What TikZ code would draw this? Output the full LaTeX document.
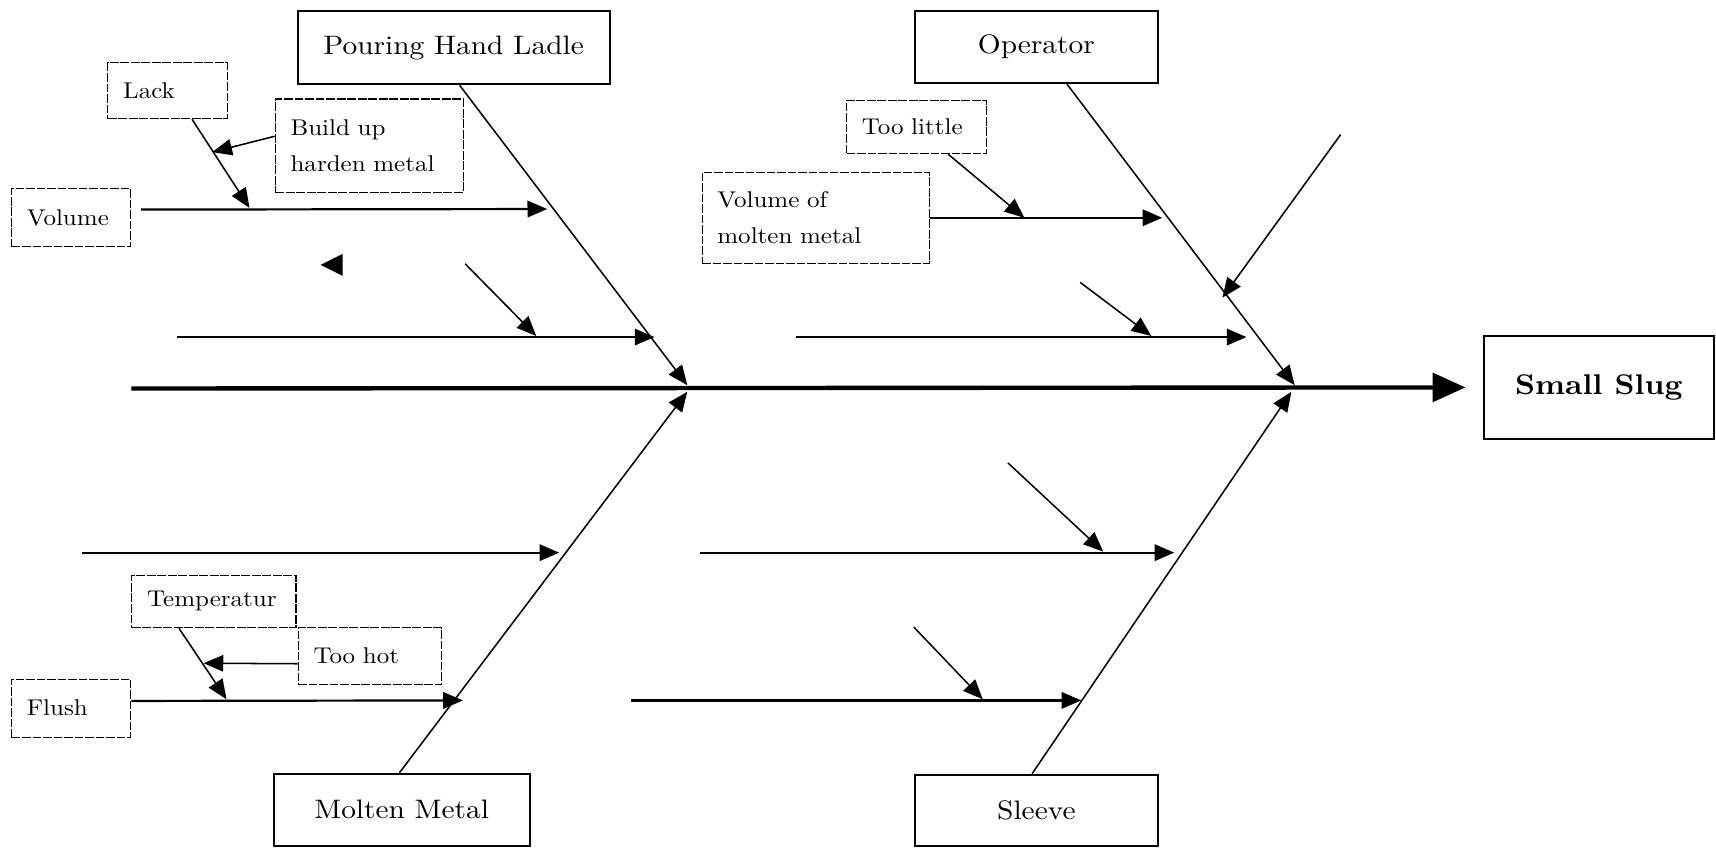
\documentclass[tikz,border=0pt]{standalone}
\usepackage{fontspec}
\setmainfont{lmroman10-regular.otf}[FakeStretch=1.1, BoldFont=lmroman10-bold.otf]
\usetikzlibrary{arrows.meta}
\begin{document}
\begin{tikzpicture}[x=0.5pt,y=-0.5pt,
  catbox/.style={draw,line width=0.9pt,inner sep=0pt,font=\fontsize{12.2}{14}\selectfont},
  subbox/.style={draw,line width=0.5pt,dash pattern=on 4pt off 0.8pt,anchor=north west,
                 align=left,inner xsep=7pt,inner ysep=0pt,font=\fontsize{10.4}{16.5}\selectfont},
  bone/.style={line width=0.7pt,-{Triangle[length=9pt,width=7.5pt]}},
  rib/.style={line width=1pt,-{Triangle[length=9pt,width=7.5pt]}},
  twig/.style={line width=0.7pt,-{Triangle[length=9pt,width=7.5pt]}},
  spine/.style={line width=2pt,-{Triangle[length=15pt,width=13pt]}}]

\useasboundingbox (0,0) rectangle (1568,775);

% effect
\node[catbox,font=\fontsize{13}{15}\selectfont\bfseries,minimum width=105pt,minimum height=47pt] (slug) at (1461,354) {Small Slug};

% main categories
\node[catbox,minimum width=142.5pt,minimum height=33.5pt] (pour) at (414.5,43.5) {Pouring Hand Ladle};
\node[catbox,minimum width=111pt,minimum height=33pt] (oper) at (947,43) {Operator};
\node[catbox,minimum width=117pt,minimum height=33pt] (molt) at (367,740) {Molten Metal};
\node[catbox,minimum width=111pt,minimum height=32.5pt] (slv) at (947,740.5) {Sleeve};

% spine
\coordinate (tail) at (120,355);
\draw[spine] (tail) -- ([xshift=-8pt]slug.west);

% main bones
\coordinate (jl) at (628,355);
\coordinate (jr) at (1183,355);
\draw[bone] ([xshift=2.75pt]pour.south) -- ([yshift=1.5pt]jl);
\draw[bone] ([xshift=14pt]oper.south) -- ([yshift=1.5pt]jr);
\draw[bone] ([xshift=-1pt]molt.north) -- ([yshift=-1.5pt]jl);
\draw[bone] ([xshift=-2pt]slv.north) -- ([xshift=-1.5pt,yshift=-1.5pt]jr);

% cause boxes
\node[subbox,text width=40.5pt,minimum height=25.5pt] (lack) at (98,57) {Lack};
\node[subbox,text width=72pt,minimum height=42.5pt] (build) at (251,90) {Build up\\harden metal};
\node[subbox,text width=40.5pt,minimum height=26.5pt] (vol) at (10,172) {Volume};
\node[subbox,text width=61pt,minimum height=24pt] (temp) at (120,525) {Temperatur};
\node[subbox,text width=51.5pt,minimum height=26pt] (hot) at (272,573) {Too hot};
\node[subbox,text width=40.5pt,minimum height=26.5pt] (flush) at (10,620) {Flush};
\node[subbox,text width=50pt,minimum height=24.5pt] (little) at (773,91) {Too little};
\node[subbox,text width=90pt,minimum height=41.5pt] (vmm) at (641,157) {Volume of\\molten metal};

% upper left ribs
\coordinate (r1e) at (500,191);
\draw[rib] ([xshift=4.5pt,yshift=3.75pt]vol.east) -- (r1e);
\coordinate (j1) at (228,190);
\draw[twig] ([xshift=11.25pt]lack.south) -- (j1);
\coordinate (j1b) at (194,139);
\draw[twig] ([yshift=4.25pt]build.west) -- (j1b);
\fill (293,242) -- (313,232) -- (313,252) -- cycle;
\coordinate (r2s) at (162,308);
\coordinate (r2e) at (598,308);
\draw[rib] (r2s) -- (r2e);
\coordinate (t2s) at (425,241);
\coordinate (t2e) at (490,307);
\draw[twig] (t2s) -- (t2e);

% lower left ribs
\coordinate (r3s) at (75,505);
\coordinate (r3e) at (511,505);
\draw[rib] (r3s) -- (r3e);
\coordinate (r4e) at (423,640);
\draw[rib] ([yshift=3.25pt]flush.east) -- (r4e);
\coordinate (j4) at (207,639);
\draw[twig] ([xshift=-16pt]temp.south) -- (j4);
\coordinate (j4b) at (186,606);
\draw[twig] ([yshift=-3.5pt]hot.west) -- (j4b);

% upper right ribs
\coordinate (r5e) at (1062,199);
\draw[rib] (vmm.east) -- (r5e);
\coordinate (j5) at (936,199);
\draw[twig] ([xshift=14.5pt]little.south) -- (j5);
\coordinate (t5s) at (1225,123);
\coordinate (t5e) at (1117,272);
\draw[twig] (t5s) -- (t5e);
\coordinate (r6s) at (727,308);
\coordinate (r6e) at (1139,308);
\draw[rib] (r6s) -- (r6e);
\coordinate (t6s) at (987,258);
\coordinate (t6e) at (1052,307);
\draw[twig] (t6s) -- (t6e);

% lower right ribs
\coordinate (t7s) at (921,423);
\coordinate (t7e) at (1008,504);
\draw[twig] (t7s) -- (t7e);
\coordinate (r7s) at (640,505);
\coordinate (r7e) at (1073,505);
\draw[rib] (r7s) -- (r7e);
\coordinate (t8s) at (835,573);
\coordinate (t8e) at (898,639);
\draw[twig] (t8s) -- (t8e);
\coordinate (r8s) at (577,640);
\coordinate (r8e) at (988,640);
\draw[rib] (r8s) -- (r8e);
\end{tikzpicture}
\end{document}
